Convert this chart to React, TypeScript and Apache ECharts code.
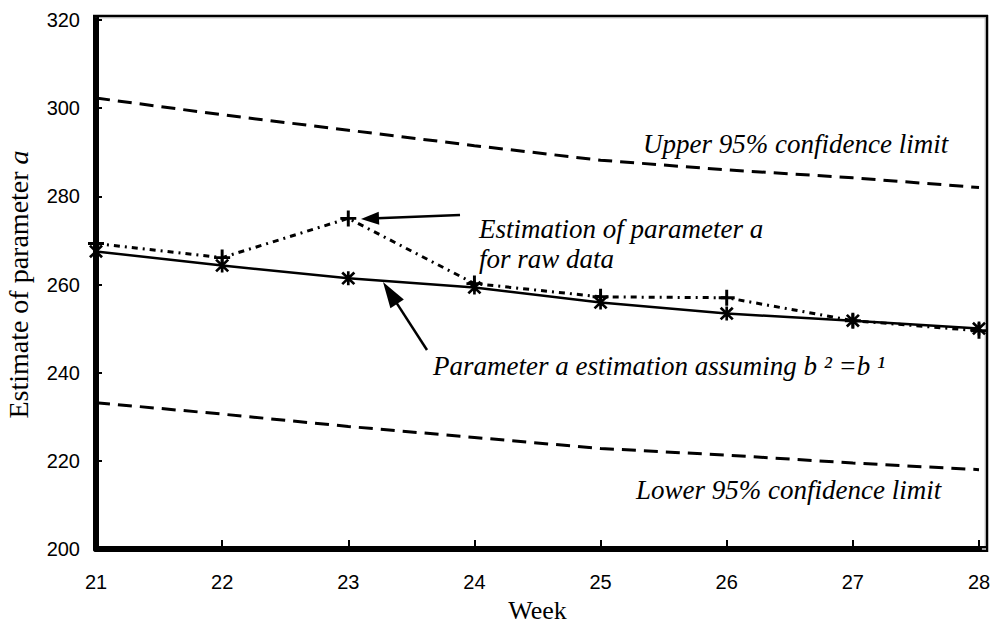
import React, { useEffect, useRef } from "react";
import * as echarts from "echarts";

const weeks = [21, 22, 23, 24, 25, 26, 27, 28];
const upperLimit = [302.3, 298.5, 295.0, 291.5, 288.2, 286.0, 284.2, 282.0];
const lowerLimit = [233.2, 230.6, 227.8, 225.3, 222.8, 221.3, 219.5, 218.0];
const assumingB = [267.5, 264.3, 261.4, 259.3, 255.9, 253.4, 251.8, 250.0];
const rawData = [269.3, 266.1, 275.0, 260.2, 257.2, 257.0, 251.8, 249.5];
const yTicks = { min: 200, max: 320, step: 20 };

const SERIF = "'Liberation Serif', 'Times New Roman', serif";
const SANS = "'Liberation Sans', Arial, sans-serif";

const PLUS =
  "path://M-1.2,-6.5H1.2V-1.2H6.5V1.2H1.2V6.5H-1.2V1.2H-6.5V-1.2H-1.2Z";
const STAR =
  "path://M-4.22,-5.78L5.78,4.22L4.22,5.78L-5.78,-4.22Z M5.78,-4.22L-4.22,5.78L-5.78,4.22L4.22,-5.78Z M-1.1,-6L1.1,-6L1.1,6L-1.1,6Z";

function arrow(x1: number, y1: number, x2: number, y2: number, len: number, hw: number) {
  const dx = x2 - x1, dy = y2 - y1;
  const L = Math.hypot(dx, dy);
  const ux = dx / L, uy = dy / L;
  const bx = x2 - ux * len, by = y2 - uy * len;
  const px = -uy, py = ux;
  return [
    { type: "line", shape: { x1, y1, x2: bx + ux * 2, y2: by + uy * 2 }, style: { stroke: "#000", lineWidth: 2.5 } },
    {
      type: "polygon",
      shape: { points: [[x2, y2], [bx + px * hw, by + py * hw], [bx - px * hw, by - py * hw]] },
      style: { fill: "#000" },
    },
  ];
}

function label(text: string, x: number, y: number) {
  return {
    type: "text",
    x,
    y,
    style: {
      text,
      fontFamily: SERIF,
      fontStyle: "italic",
      fontSize: 27,
      fill: "#000",
      verticalAlign: "middle",
      align: "left",
    },
  };
}

export default function App() {
  const ref = useRef<HTMLDivElement>(null);
  useEffect(() => {
    document.body.style.margin = "0";
    const chart = echarts.init(ref.current!, undefined, { renderer: "svg" });
    const pairs = (arr: number[]) => weeks.map((w, i) => [w, arr[i]]);
    chart.setOption({
      animation: false,
      backgroundColor: "#fff",
      grid: { left: 96, right: 14, top: 20, bottom: 76, containLabel: false, outerBoundsMode: "none" },
      xAxis: {
        type: "value",
        min: 21,
        max: 28,
        interval: 1,
        name: "Week",
        nameLocation: "middle",
        nameGap: 48,
        nameTextStyle: { fontFamily: SERIF, fontSize: 26, color: "#000" },
        axisLine: { lineStyle: { color: "#000", width: 6 } },
        axisTick: { inside: true, length: 9, lineStyle: { color: "#000", width: 2 } },
        axisLabel: { fontFamily: SANS, fontSize: 20, color: "#000", margin: 23 },
        splitLine: { show: false },
      },
      yAxis: {
        type: "value",
        min: yTicks.min,
        max: yTicks.max,
        interval: yTicks.step,
        name: "Estimate of parameter {i|a}",
        nameLocation: "middle",
        nameGap: 64,
        nameTextStyle: {
          fontFamily: SERIF,
          fontSize: 28,
          color: "#000",
          rich: { i: { fontFamily: SERIF, fontSize: 28, fontStyle: "italic", color: "#000" } },
        },
        axisLine: { lineStyle: { color: "#000", width: 6 } },
        axisTick: { inside: true, length: 6, lineStyle: { color: "#000", width: 2 } },
        axisLabel: { fontFamily: SANS, fontSize: 20, color: "#000", margin: 16 },
        splitLine: { show: false },
      },
      series: [
        {
          name: "Upper 95% confidence limit",
          type: "line",
          data: pairs(upperLimit),
          showSymbol: false,
          lineStyle: { color: "#000", width: 3, type: [14, 8] },
        },
        {
          name: "Lower 95% confidence limit",
          type: "line",
          data: pairs(lowerLimit),
          showSymbol: false,
          lineStyle: { color: "#000", width: 3, type: [14, 8] },
        },
        {
          name: "Parameter a estimation assuming b2=b1",
          type: "line",
          data: pairs(assumingB),
          symbol: STAR,
          symbolSize: 14,
          itemStyle: { color: "#000" },
          lineStyle: { color: "#000", width: 2.5 },
        },
        {
          name: "Estimation of parameter a for raw data",
          type: "line",
          data: pairs(rawData),
          symbol: PLUS,
          symbolSize: 16,
          itemStyle: { color: "#000" },
          lineStyle: { color: "#000", width: 3, type: [6, 5, 2, 5] },
        },
      ],
      graphic: [
        { type: "line", shape: { x1: 93, y1: 16, x2: 988, y2: 16 }, style: { stroke: "#000", lineWidth: 2.5 } },
        { type: "line", shape: { x1: 96, y1: 17.8, x2: 986, y2: 17.8 }, style: { stroke: "#aaa", lineWidth: 1 } },
        { type: "line", shape: { x1: 987, y1: 15, x2: 987, y2: 552 }, style: { stroke: "#000", lineWidth: 2.5 } },
        { type: "line", shape: { x1: 985.2, y1: 17, x2: 985.2, y2: 549 }, style: { stroke: "#aaa", lineWidth: 1 } },
        { type: "line", shape: { x1: 96, y1: 15, x2: 96, y2: 21 }, style: { stroke: "#000", lineWidth: 6 } },
        { type: "line", shape: { x1: 978, y1: 549, x2: 988, y2: 549 }, style: { stroke: "#000", lineWidth: 6 } },
        { type: "line", shape: { x1: 96, y1: 17, x2: 96, y2: 549 }, style: { stroke: "#999", lineWidth: 2 } },
        { type: "line", shape: { x1: 96, y1: 549, x2: 986, y2: 549 }, style: { stroke: "#999", lineWidth: 2 } },
        label("Upper 95% confidence limit", 643, 144),
        label("Estimation of parameter a", 479, 229),
        label("for raw data", 479, 259),
        label("Parameter a estimation assuming b ² =b ¹", 433, 366),
        label("Lower 95% confidence limit", 636, 490),
        ...arrow(460, 215, 361, 219, 18, 6.5),
        ...arrow(427, 350, 383, 282, 26, 8),
      ],
    });
    return () => chart.dispose();
  }, []);
  return <div ref={ref} style={{ width: 993, height: 625 }} />;
}
